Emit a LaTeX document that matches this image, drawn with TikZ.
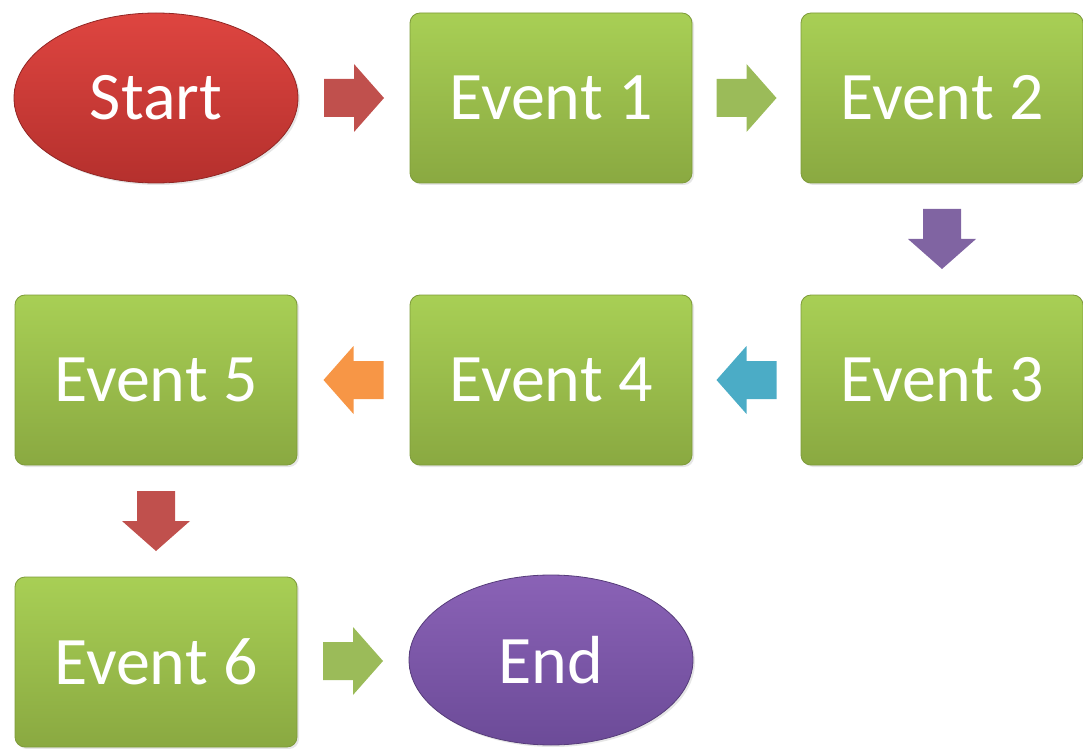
\documentclass[tikz,border=0pt]{standalone}
\usepackage{fontspec}
\setmainfont{Carlito}
\usetikzlibrary{shapes.geometric,calc,shadows}
\definecolor{boxtop}{HTML}{A8CF55}
\definecolor{boxbot}{HTML}{8AA941}
\definecolor{boxline}{HTML}{7E9B3A}
\definecolor{arrred}{HTML}{C0504D}
\definecolor{arrgreen}{HTML}{9BBB59}
\definecolor{arrpurple}{HTML}{8064A2}
\definecolor{arrcyan}{HTML}{4BACC6}
\definecolor{arrorange}{HTML}{F79646}
\definecolor{starttop}{HTML}{DE4540}
\definecolor{startbot}{HTML}{B5302D}
\definecolor{endtop}{HTML}{8A62B6}
\definecolor{endbot}{HTML}{6C4B98}
\tikzset{
  event/.style={rectangle, rounded corners=5pt, minimum width=141pt, minimum height=85pt,
    top color=boxtop, bottom color=boxbot, draw=boxline, line width=0.4pt,
    drop shadow={opacity=0.2, shadow xshift=1pt, shadow yshift=-1pt},
    text=white, font=\fontsize{34}{40}\selectfont},
  terminal/.style={ellipse, minimum width=142pt, minimum height=85pt, inner sep=0pt,
    line width=0.4pt, drop shadow={opacity=0.2, shadow xshift=1pt, shadow yshift=-1pt},
    text=white, font=\fontsize{34}{40}\selectfont},
  blockarrow/.pic={\fill (-30,-19) -- (0,-19) -- (0,-34) -- (30,0) -- (0,34) -- (0,19) -- (-30,19) -- cycle;}
}
\begin{document}
\begin{tikzpicture}[x=0.5pt,y=-0.5pt]
\useasboundingbox (0,0) rectangle (1083,749);
\node[terminal, top color=starttop, bottom color=startbot, draw=startbot!80!black] (start) at (156,98) {Start};
\foreach \n/\x/\y in {1/551/98, 2/942/98, 3/942/380, 4/551/380, 5/156/380, 6/156/662} % the event boxes
  \node[event] (ev\n) at (\x,\y) {Event \n};
\node[terminal, top color=endtop, bottom color=endbot, draw=endbot!80!black] (stop) at (551,660) {End};
% block arrows between the boxes
\foreach \a/\b/\c/\r in {start.east/ev1.west/arrred/0, ev1.east/ev2.west/arrgreen/0,
    ev2.south/ev3.north/arrpurple/-90, ev3.west/ev4.east/arrcyan/180,
    ev4.west/ev5.east/arrorange/180, ev5.south/ev6.north/arrred/-90,
    ev6.east/stop.west/arrgreen/0}
  \pic[fill=\c, rotate=\r] at ($(\a)!0.5!(\b)$) {blockarrow};
\end{tikzpicture}
\end{document}
